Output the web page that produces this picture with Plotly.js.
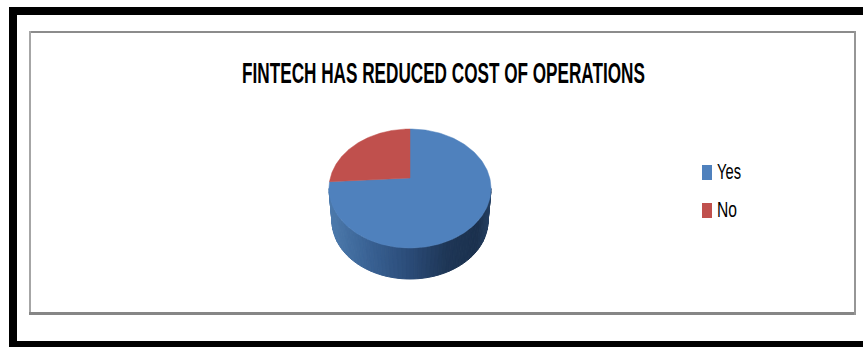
<!DOCTYPE html>
<html>
<head>
<meta charset="utf-8">
<script src="https://cdn.plot.ly/plotly-3.0.1.min.js"></script>
<style>html,body{margin:0;padding:0;background:#fff}#chart{width:863px;height:347px}</style>
</head>
<body>
<div id="chart"></div>
<script>
// Survey result
const chartTitle = "FINTECH HAS REDUCED COST OF OPERATIONS";
const categories = ["Yes", "No"];
const shares = [74, 26];
const sliceColors = ["#4f81bd", "#c0504d"];

// Pie geometry on a pixel-sized plot area
const cx = 410, apexY = 178, backReach = 49, frontReach = 70, halfWidth = 81;
const depthCenterY = 221, depthRx = 78, depthRy = 58;
const topCenterY = apexY + (frontReach - backReach) / 2;

// Perspective projection of a point on the pie disc (angle clockwise from 12 o'clock)
const p = (frontReach - backReach) / (frontReach + backReach);
const a = backReach * (1 + p);
const R = halfWidth * Math.sqrt(1 - p * p);
function project(phi, r) {
  const s = r * Math.sin(phi), c = r * Math.cos(phi);
  const w = 1 + p * c;
  return [cx + R * s / w, apexY - a * c / w];
}

const traces = [];
const topRy = (frontReach + backReach) / 2;
const sideSteps = 60;

// Cylinder wall: strips shaded from left to right
const ramp = [[0, [76, 122, 172]], [0.25, [56, 96, 146]], [0.5, [42, 74, 118]], [0.72, [30, 54, 86]], [0.92, [27, 49, 78]], [1, [36, 62, 96]]];
function shade(u) {
  for (let i = 1; i < ramp.length; i++) {
    if (u <= ramp[i][0]) {
      const f = (u - ramp[i - 1][0]) / (ramp[i][0] - ramp[i - 1][0]);
      const c = ramp[i - 1][1].map((v, k) => Math.round(v + f * (ramp[i][1][k] - v)));
      return `rgb(${c.join(",")})`;
    }
  }
  return "rgb(36,62,96)";
}
for (let i = 0; i < sideSteps; i++) {
  const t0 = Math.PI * (1 - i / sideSteps), t1 = Math.PI * (1 - (i + 1) / sideSteps);
  const topAt = t => [cx + halfWidth * Math.cos(t), topCenterY + topRy * Math.sin(t)];
  const botAt = t => [cx + depthRx * Math.cos(t), depthCenterY + depthRy * Math.sin(t)];
  const q = [topAt(t0), topAt(t1), botAt(t1), botAt(t0), topAt(t0)];
  const u0 = (topAt(t0)[0] - (cx - halfWidth)) / (2 * halfWidth);
  const col = shade(u0);
  traces.push({
    type: "scatter", mode: "lines", fill: "toself", fillcolor: col,
    x: q.map(v => v[0]), y: q.map(v => v[1]),
    line: { color: col, width: 1 }, showlegend: false, hoverinfo: "skip"
  });
}

// Top face slices, swept from the share values
const total = shares.reduce((m, v) => m + v, 0);
let start = 0;
shares.forEach((v, idx) => {
  const sweep = 2 * Math.PI * v / total;
  const pts = [project(0, 0)];
  const n = 180;
  for (let j = 0; j <= n; j++) pts.push(project(start + sweep * j / n, 1));
  pts.push(project(0, 0));
  traces.push({
    type: "scatter", mode: "lines", fill: "toself", fillcolor: sliceColors[idx],
    x: pts.map(q => q[0]), y: pts.map(q => q[1]),
    line: { color: sliceColors[idx], width: 0.5 },
    name: categories[idx], showlegend: false, hoverinfo: "name"
  });
  start += sweep;
});

// Frames and legend swatches
const rect = (x0, y0, x1, y1, color) => ({
  type: "rect", xref: "x", yref: "y", x0, y0, x1, y1,
  fillcolor: color, line: { width: 0 }, layer: "below"
});
const shapes = [
  rect(9, 7, 863, 15, "#000"),
  rect(9, 7, 17, 347, "#000"),
  rect(9, 341, 863, 347, "#000"),
  rect(29, 31, 856, 33, "#8c8c8c"),
  rect(29, 31, 31, 315, "#a6a6a6"),
  rect(29, 312, 856, 315, "#868686"),
  rect(854, 31, 856, 315, "#969696"),
  rect(702, 165, 712, 180, sliceColors[0]),
  rect(702, 203, 712, 218, sliceColors[1])
];

const fontFamily = "'Liberation Sans',sans-serif";
const annotations = [
  { text: "<b>" + chartTitle + "</b>", x: 443.5, y: 73, font: { size: 29, color: "#000", family: fontFamily } },
  { text: categories[0], x: 717, y: 171, xanchor: "left", font: { size: 22, color: "#000", family: fontFamily } },
  { text: categories[1], x: 717, y: 209, xanchor: "left", font: { size: 22, color: "#000", family: fontFamily } }
].map(o => Object.assign({
  xref: "x", yref: "y", showarrow: false, yanchor: "middle", xanchor: "center"
}, o));

// Condensed lettering: each label is narrowed horizontally to its left edge and width
const labelBoxes = [[242, 403], [717, 24], [717, 20]];

Plotly.newPlot("chart", traces, {
  width: 863, height: 347,
  margin: { l: 0, r: 0, t: 0, b: 0 },
  paper_bgcolor: "#fff", plot_bgcolor: "#fff",
  showlegend: false,
  xaxis: { range: [0, 863], visible: false, fixedrange: true },
  yaxis: { range: [347, 0], visible: false, fixedrange: true },
  shapes, annotations
}, { displayModeBar: false, staticPlot: true }).then(gd => {
  gd.querySelectorAll(".annotation-text").forEach((el, i) => {
    const box = el.getBBox();
    const holder = el.getScreenCTM();
    const screenLeft = box.x * holder.a + holder.e;
    const sx = labelBoxes[i][1] / box.width;
    el.setAttribute("transform",
      `translate(${box.x + (labelBoxes[i][0] - screenLeft)} 0) scale(${sx} 1) translate(${-box.x} 0)`);
  });
});
</script>
</body>
</html>
